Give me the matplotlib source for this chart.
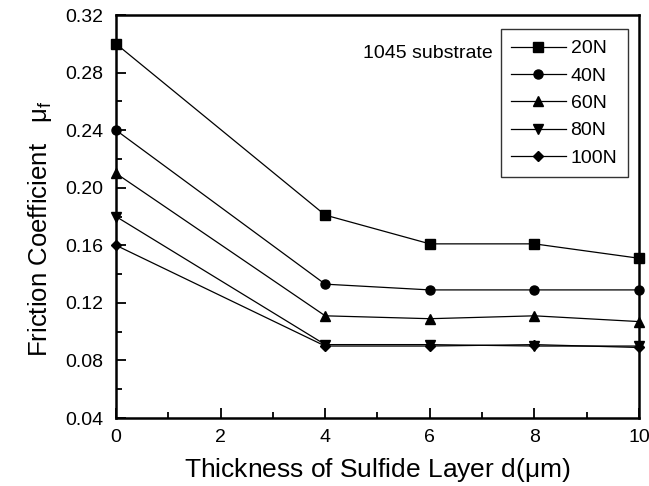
import matplotlib
matplotlib.use("Agg")
import matplotlib.pyplot as plt
from matplotlib.ticker import MultipleLocator, FormatStrFormatter

plt.rcParams['font.family'] = ['Liberation Sans', 'DejaVu Sans']
plt.rcParams['mathtext.fontset'] = 'custom'
plt.rcParams['mathtext.rm'] = 'Liberation Sans'
plt.rcParams['mathtext.it'] = 'Liberation Sans'

thickness = [0, 4, 6, 8, 10]
f20 = [0.300, 0.181, 0.161, 0.161, 0.151]
f40 = [0.240, 0.133, 0.129, 0.129, 0.129]
f60 = [0.210, 0.111, 0.109, 0.111, 0.107]
f80 = [0.180, 0.091, 0.091, 0.090, 0.090]
f100 = [0.160, 0.090, 0.090, 0.091, 0.089]
labels = ['20N', '40N', '60N', '80N', '100N']
markers = ['s', 'o', '^', 'v', 'D']

fig = plt.figure(figsize=(6.49, 4.86), dpi=100)
ax = fig.add_axes([0.1787, 0.1399, 0.8059, 0.8292])

for ys, lab, m in zip([f20, f40, f60, f80, f100], labels, markers):
    ms = 6.5 if m != 'D' else 5.5
    ax.plot(thickness, ys, color='black', lw=0.9, marker=m, ms=ms,
            label=lab, clip_on=False, zorder=3)

ax.set_xlim(0, 10)
ax.set_ylim(0.04, 0.32)
ax.xaxis.set_major_locator(MultipleLocator(2))
ax.xaxis.set_minor_locator(MultipleLocator(1))
ax.yaxis.set_major_locator(MultipleLocator(0.04))
ax.yaxis.set_minor_locator(MultipleLocator(0.02))
ax.yaxis.set_major_formatter(FormatStrFormatter('%.2f'))
ax.tick_params(which='both', direction='in', top=False, right=False, width=1.3)
ax.tick_params(which='major', length=7, labelsize=14)
ax.tick_params(axis='y', which='major', pad=9)
ax.tick_params(axis='x', which='major', pad=8)
ax.tick_params(which='minor', length=4)
for s in ax.spines.values():
    s.set_linewidth(1.8)

ax.set_xlabel('Thickness of Sulfide Layer d($\\mu$m)', fontsize=19, labelpad=7)
ax.set_ylabel('Friction Coefficient   $\\mu_f$', fontsize=18.5)
ax.yaxis.set_label_coords(-0.118, 0.47)

leg = ax.legend(loc='upper right', bbox_to_anchor=(0.979, 0.965), fontsize=14,
                frameon=True, fancybox=False, edgecolor='black',
                handlelength=2.8, labelspacing=0.5, borderpad=0.55,
                handletextpad=0.25, borderaxespad=0)
leg.get_frame().set_linewidth(1.0)

ax.text(0.721, 0.905, '1045 substrate', transform=ax.transAxes,
        fontsize=14, ha='right', va='center')

fig.savefig('out.png', dpi=100)
